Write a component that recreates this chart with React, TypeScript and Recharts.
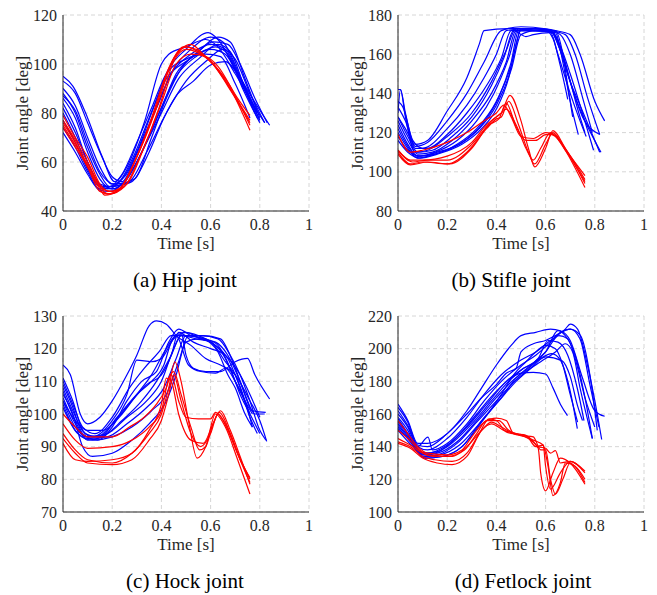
import React from "react";
import { LineChart, Line, XAxis, YAxis, CartesianGrid, Label } from "recharts";

type Pt = [number, number];

// (a) Hip joint
const hipBlue: Pt[][] = [
  [[0,95],[0.04,91],[0.1,78],[0.16,62],[0.21,52],[0.26,58],[0.33,76],[0.4,100],[0.43,104],[0.5,107],[0.58,110],[0.63,107],[0.7,96],[0.77,84],[0.82,76]],
  [[0,93],[0.05,88],[0.1,76],[0.15,64],[0.2,54],[0.24,52],[0.3,64],[0.36,80],[0.43,98],[0.5,106],[0.59,112.8],[0.63,110],[0.7,98],[0.77,86],[0.84,75]],
  [[0,90],[0.05,83],[0.1,70],[0.15,58],[0.2,51],[0.25,54],[0.32,68],[0.38,82],[0.45,98],[0.52,106],[0.6,111],[0.65,109],[0.72,95],[0.8,77]],
  [[0,88],[0.05,80],[0.1,66],[0.15,55],[0.19,50],[0.24,53],[0.3,64],[0.37,80],[0.44,96],[0.52,104],[0.6,108],[0.66,106],[0.72,94],[0.78,80]],
  [[0,86],[0.05,78],[0.1,64],[0.15,53],[0.2,49],[0.25,52],[0.32,64],[0.39,80],[0.46,95],[0.54,103],[0.62,107],[0.67,104],[0.73,90],[0.8,76]],
  [[0,84],[0.05,74],[0.1,60],[0.15,51],[0.19,50],[0.24,55],[0.3,68],[0.36,82],[0.42,96],[0.5,102],[0.58,104],[0.64,103],[0.7,92],[0.76,78]],
  [[0,82],[0.05,72],[0.1,60],[0.14,52],[0.18,49],[0.23,52],[0.29,63],[0.35,78],[0.42,94],[0.5,101],[0.6,106],[0.66,104],[0.72,93],[0.79,78]],
  [[0,80],[0.05,70],[0.1,58],[0.15,50],[0.2,49],[0.26,53],[0.33,66],[0.4,80],[0.47,94],[0.55,102],[0.63,108],[0.68,105],[0.74,90],[0.8,77]],
  [[0,77],[0.05,68],[0.1,57],[0.15,50],[0.2,50],[0.27,52],[0.34,64],[0.42,80],[0.5,93],[0.58,101],[0.65,106],[0.7,102],[0.76,88],[0.82,76]],
  [[0,74],[0.05,66],[0.1,56],[0.15,49],[0.2,50],[0.28,52],[0.35,64],[0.41,78],[0.46,87],[0.53,93],[0.6,99.6],[0.66,101],[0.72,94],[0.79,80]],
  [[0,72],[0.05,64],[0.1,55],[0.15,48.5],[0.19,48],[0.25,52],[0.33,66],[0.4,82],[0.46,96],[0.54,104],[0.61,109],[0.67,108],[0.72,100],[0.78,86],[0.83,76]],
  [[0,87],[0.05,81],[0.1,68],[0.15,56],[0.21,51],[0.29,53],[0.36,70],[0.42,86],[0.48,98],[0.56,106],[0.63,111],[0.68,109],[0.74,94],[0.8,78]],
];
const hipRed: Pt[][] = [
  [[0,79],[0.05,70],[0.1,62],[0.15,51],[0.19,48],[0.24,50],[0.3,62],[0.36,78],[0.42,96],[0.46,104],[0.5,107],[0.55,105],[0.6,101],[0.66,93],[0.71,85],[0.76,77]],
  [[0,77],[0.05,69],[0.1,60],[0.15,50],[0.18,47],[0.23,49],[0.29,60],[0.37,80],[0.43,98],[0.48,106],[0.52,108],[0.57,104],[0.62,99],[0.68,90],[0.76,73]],
  [[0,76],[0.05,68],[0.1,58],[0.15,49],[0.17,46.5],[0.22,48],[0.3,62],[0.38,82],[0.44,100],[0.49,107],[0.54,106],[0.6,101],[0.66,94],[0.71,86],[0.76,79]],
  [[0,74],[0.05,66],[0.1,58],[0.15,48],[0.19,47],[0.25,50],[0.32,64],[0.39,82],[0.45,101],[0.5,106],[0.56,104],[0.61,100],[0.67,91],[0.72,83],[0.76,76]],
  [[0,75],[0.05,67],[0.1,59],[0.16,49],[0.2,48],[0.26,51],[0.33,66],[0.4,84],[0.46,100],[0.52,104],[0.58,103],[0.63,99],[0.69,89],[0.76,75]],
];

// (b) Stifle joint
const stifleBlue: Pt[][] = [
  [[0,128],[0.03,122],[0.07,114],[0.12,116],[0.2,131],[0.28,148],[0.33,165],[0.35,172],[0.45,173],[0.55,173],[0.62,172],[0.66,162],[0.7,146],[0.74,134],[0.78,122],[0.82,110]],
  [[0,142],[0.01,142],[0.03,130],[0.07,113],[0.12,115],[0.2,126],[0.28,140],[0.35,156],[0.42,172],[0.5,174],[0.6,173],[0.66,170],[0.7,160],[0.75,138],[0.79,120]],
  [[0,136],[0.02,133],[0.06,116],[0.1,112],[0.2,122],[0.28,134],[0.35,148],[0.4,160],[0.44,172],[0.52,173],[0.62,172],[0.65,165],[0.7,146],[0.75,128],[0.82,119]],
  [[0,133],[0.03,126],[0.07,112],[0.12,112],[0.2,119],[0.28,130],[0.36,144],[0.42,158],[0.46,172],[0.55,172],[0.63,171],[0.67,160],[0.71,142],[0.76,126],[0.825,110]],
  [[0,130],[0.01,142],[0.03,128],[0.07,110],[0.12,111],[0.2,118],[0.3,130],[0.38,146],[0.44,162],[0.48,173],[0.56,172],[0.62,172],[0.66,164],[0.7,150],[0.74,134],[0.795,111]],
  [[0,128],[0.04,118],[0.08,110],[0.14,111],[0.22,118],[0.3,128],[0.38,144],[0.43,158],[0.47,172],[0.52,169],[0.55,170],[0.62,171],[0.65,160],[0.7,140],[0.74,126],[0.765,118]],
  [[0,126],[0.04,116],[0.08,109],[0.14,110],[0.22,116],[0.3,126],[0.38,140],[0.44,156],[0.48,172],[0.56,172],[0.63,171],[0.66,162],[0.7,146],[0.735,130],[0.76,120]],
  [[0,124],[0.04,114],[0.08,108],[0.15,110],[0.24,116],[0.32,126],[0.39,140],[0.45,158],[0.49,173],[0.57,172],[0.64,171],[0.67,156],[0.7,136],[0.733,119]],
  [[0,122],[0.04,113],[0.08,108],[0.15,109],[0.24,114],[0.32,122],[0.4,136],[0.46,154],[0.5,172],[0.6,172],[0.63,168],[0.66,154],[0.69,137]],
  [[0,120],[0.04,112],[0.08,107],[0.15,109],[0.25,114],[0.33,122],[0.4,134],[0.46,152],[0.5,170],[0.56,172],[0.64,172],[0.67,160],[0.69,144],[0.71,128]],
  [[0,118],[0.04,111],[0.09,108],[0.16,110],[0.26,115],[0.34,124],[0.41,138],[0.46,156],[0.49,172],[0.55,173],[0.62,172],[0.68,170],[0.72,160],[0.77,138],[0.82,119]],
  [[0,116],[0.04,110],[0.09,107],[0.16,109],[0.26,114],[0.34,122],[0.4,132],[0.45,148],[0.48,165],[0.5,173],[0.58,173],[0.64,172],[0.7,170],[0.74,160],[0.8,136],[0.84,126]],
];
const stifleRed: Pt[][] = [
  [[0,119],[0.05,110],[0.1,111],[0.2,115],[0.28,120],[0.35,126],[0.4,130],[0.43,134],[0.46,128],[0.5,118],[0.55,117],[0.6,120],[0.64,118],[0.7,108],[0.76,98]],
  [[0,111],[0.05,106],[0.1,106],[0.2,108],[0.3,115],[0.36,124],[0.4,128],[0.42,130],[0.455,139],[0.5,126],[0.53,112],[0.556,102.5],[0.6,112],[0.63,121],[0.68,112],[0.76,94]],
  [[0,110],[0.05,104],[0.1,105],[0.2,104],[0.28,110],[0.36,122],[0.4,127],[0.42,128],[0.45,136],[0.49,124],[0.53,110],[0.555,104],[0.6,114],[0.63,120],[0.68,111],[0.76,92]],
  [[0,111],[0.06,105],[0.12,106],[0.2,106],[0.3,114],[0.37,124],[0.41,127],[0.44,135],[0.48,123],[0.52,116],[0.56,116],[0.6,119],[0.63,119],[0.69,110],[0.76,96]],
  [[0,109],[0.05,103.5],[0.12,105],[0.21,104],[0.3,112],[0.38,126],[0.42,130],[0.44,132],[0.48,124],[0.52,112],[0.55,106],[0.58,112],[0.62,120],[0.68,111],[0.76,95]],
];

// (c) Hock joint
const hockBlue: Pt[][] = [
  [[0,115],[0.03,112],[0.07,100],[0.1,97],[0.15,99],[0.2,104],[0.26,112],[0.3,118],[0.35,127],[0.38,128.5],[0.42,127.5],[0.46,124],[0.52,121],[0.58,117],[0.64,115],[0.7,112],[0.76,104],[0.8,98],[0.828,91.6]],
  [[0,111],[0.04,104],[0.08,95],[0.12,93],[0.2,98],[0.26,106],[0.3,116.5],[0.36,116],[0.4,117],[0.45,123],[0.5,125],[0.56,123],[0.62,122],[0.67,118],[0.72,110],[0.77,101],[0.824,100.5]],
  [[0,109],[0.04,102],[0.08,94],[0.14,92],[0.2,96],[0.26,104],[0.32,110],[0.38,113],[0.43,122],[0.47,126],[0.52,124],[0.58,123],[0.63,121],[0.68,114],[0.72,106],[0.76,100],[0.8,94]],
  [[0,107],[0.05,98],[0.09,93],[0.15,93],[0.22,99],[0.3,106],[0.36,110],[0.41,115],[0.44,122],[0.48,125],[0.5,118],[0.53,114],[0.58,113],[0.64,113],[0.7,116],[0.75,117],[0.78,112],[0.84,104.6]],
  [[0,105],[0.05,97],[0.1,92],[0.16,93],[0.24,98],[0.32,104],[0.38,110],[0.44,118],[0.48,124],[0.54,123],[0.6,122],[0.66,116],[0.7,112],[0.74,104],[0.77,96]],
  [[0,104],[0.05,96],[0.1,93],[0.18,94],[0.26,99],[0.34,104],[0.4,110],[0.45,120],[0.49,125],[0.55,124],[0.62,121],[0.67,117],[0.72,108],[0.76,99],[0.79,94]],
  [[0,103],[0.05,95],[0.1,92.5],[0.18,93],[0.26,97],[0.34,102],[0.41,108],[0.46,117],[0.5,124],[0.56,124],[0.63,123],[0.68,118],[0.72,112],[0.76,104],[0.8,95],[0.825,92]],
  [[0,102],[0.06,94],[0.12,92],[0.2,93],[0.28,96],[0.36,101],[0.42,106],[0.47,116],[0.51,124],[0.57,124],[0.64,123],[0.69,116],[0.74,106],[0.78,100],[0.82,100]],
  [[0,106],[0.04,100],[0.08,90],[0.12,87],[0.2,88],[0.28,92],[0.35,97],[0.42,104],[0.46,112],[0.5,122],[0.55,123],[0.62,121],[0.66,117],[0.7,110],[0.74,104],[0.77,100]],
  [[0,108],[0.04,101],[0.09,94],[0.14,93],[0.2,97],[0.28,104],[0.34,109],[0.4,112],[0.44,118],[0.47,125],[0.53,122],[0.6,120],[0.66,118],[0.72,112],[0.76,106],[0.8,99]],
  [[0,110],[0.04,103],[0.08,96],[0.13,94],[0.2,99],[0.27,108],[0.33,114],[0.39,119],[0.44,124],[0.5,124],[0.57,123],[0.63,119],[0.67,112],[0.7,108],[0.74,100],[0.77,96]],
  [[0,104],[0.05,98],[0.1,95],[0.16,95],[0.24,100],[0.3,106],[0.36,112],[0.42,120],[0.46,124],[0.51,115],[0.56,113],[0.62,112.5],[0.66,114],[0.7,110],[0.74,104],[0.76,100]],
];
const hockRed: Pt[][] = [
  [[0,100],[0.05,96],[0.1,93],[0.2,93],[0.27,96],[0.33,99],[0.38,103],[0.42,108],[0.44,112],[0.47,104],[0.5,99],[0.55,98.5],[0.6,98.5],[0.62,100.5],[0.66,97],[0.71,88],[0.76,80]],
  [[0,97],[0.05,92],[0.1,89.5],[0.2,90],[0.28,92],[0.35,96],[0.4,101],[0.43,111],[0.45,113],[0.48,106],[0.52,96],[0.555,89],[0.58,90],[0.61,97],[0.635,100.5],[0.68,94],[0.72,86],[0.76,79]],
  [[0,94],[0.05,89],[0.1,86],[0.2,85],[0.28,88],[0.35,94],[0.4,100],[0.43,108],[0.455,116],[0.48,110],[0.51,98],[0.545,86.5],[0.58,90],[0.62,100],[0.66,96],[0.71,86],[0.76,75.5]],
  [[0,92.5],[0.05,88],[0.1,85],[0.2,84.5],[0.28,86],[0.35,92],[0.4,98],[0.43,106],[0.45,112],[0.48,104],[0.52,94],[0.56,90],[0.6,94],[0.63,100],[0.67,95],[0.72,86],[0.76,80.5]],
  [[0,91],[0.05,86],[0.1,85.5],[0.2,86],[0.28,88],[0.35,95],[0.4,103],[0.42,111],[0.44,110],[0.47,100],[0.52,92],[0.57,91],[0.61,97],[0.64,101],[0.68,95],[0.72,87],[0.76,78.5]],
];

// (d) Fetlock joint
const fetlockBlue: Pt[][] = [
  [[0,166],[0.04,156],[0.08,142],[0.12,142],[0.2,148],[0.28,162],[0.34,176],[0.4,190],[0.46,202],[0.5,208],[0.56,210],[0.62,212],[0.66,211],[0.7,205],[0.75,182],[0.8,162],[0.84,158.6]],
  [[0,164],[0.04,155],[0.08,140],[0.12,138],[0.2,145],[0.28,158],[0.35,172],[0.42,184],[0.5,193],[0.56,198],[0.62,205],[0.68,212],[0.7,215],[0.73,212],[0.77,190],[0.81,160],[0.828,144.4]],
  [[0,160],[0.04,152],[0.08,140],[0.122,145.8],[0.14,138],[0.2,142],[0.28,154],[0.35,168],[0.42,180],[0.5,190],[0.56,196],[0.62,204],[0.66,210],[0.7,212],[0.74,206],[0.78,178],[0.817,152]],
  [[0,158],[0.04,150],[0.08,138],[0.12,136],[0.2,141],[0.28,152],[0.36,166],[0.44,180],[0.5,187],[0.56,192],[0.6,198],[0.65,211],[0.68,208],[0.72,196],[0.76,170],[0.79,145]],
  [[0,157],[0.04,148],[0.08,137],[0.12,135],[0.2,140],[0.3,154],[0.38,168],[0.45,180],[0.51,188],[0.57,194],[0.61,205],[0.65,204],[0.69,196],[0.73,175],[0.756,156]],
  [[0,155],[0.05,146],[0.1,136],[0.16,137],[0.24,146],[0.32,160],[0.4,174],[0.46,182],[0.5,185],[0.55,185.5],[0.6,184.5],[0.63,176],[0.66,166],[0.689,159]],
  [[0,154],[0.05,145],[0.1,135],[0.16,136],[0.24,143],[0.32,156],[0.4,170],[0.47,181],[0.53,188],[0.58,194],[0.625,197],[0.66,193],[0.7,174],[0.729,151]],
  [[0,153],[0.05,144],[0.1,134],[0.16,135],[0.24,142],[0.32,155],[0.4,168],[0.46,178],[0.52,186],[0.58,192],[0.64,198],[0.68,203],[0.71,198],[0.74,176],[0.79,145]],
  [[0,152],[0.05,143],[0.1,134],[0.17,135],[0.25,141],[0.33,154],[0.41,168],[0.48,180],[0.54,188],[0.6,195],[0.666,192.7],[0.7,183],[0.73,165],[0.75,156]],
  [[0,151],[0.06,142],[0.11,133],[0.18,134],[0.26,140],[0.34,156],[0.42,170],[0.48,182],[0.54,190],[0.6,198],[0.654,208],[0.69,206],[0.72,194],[0.76,170],[0.8,152]],
  [[0,150],[0.06,140],[0.11,133],[0.18,134],[0.26,140],[0.34,155],[0.42,172],[0.47,184],[0.52,192],[0.56,198],[0.6,202],[0.64,200],[0.67,190],[0.7,172],[0.73,155]],
  [[0,162],[0.04,153],[0.08,141],[0.12,140],[0.2,148],[0.28,160],[0.34,170],[0.4,178],[0.44,185],[0.48,188],[0.5,198],[0.55,203],[0.6,205],[0.64,208],[0.7,212],[0.742,208],[0.78,184],[0.81,150]],
];
const fetlockRed: Pt[][] = [
  [[0,156],[0.03,150],[0.08,140],[0.12,136],[0.2,135],[0.26,138],[0.3,146],[0.35,155],[0.4,157.5],[0.44,156],[0.47,148],[0.52,147],[0.56,140],[0.59,141],[0.6,128],[0.62,114],[0.66,124],[0.7,131],[0.76,125]],
  [[0,150],[0.04,145],[0.08,139],[0.12,135],[0.2,134],[0.27,138],[0.32,148],[0.36,156],[0.41,156],[0.45,150],[0.5,147],[0.55,146],[0.58,138],[0.6,138],[0.62,120],[0.64,111],[0.67,120],[0.7,130],[0.73,126],[0.76,118]],
  [[0,145],[0.05,141],[0.1,136],[0.15,134],[0.22,134],[0.28,140],[0.34,150],[0.38,155],[0.42,152],[0.47,148],[0.53,145],[0.57,139],[0.58,124],[0.6,113],[0.63,124],[0.66,133],[0.7,130],[0.76,117]],
  [[0,143],[0.05,140],[0.1,134],[0.15,132],[0.22,131],[0.28,136],[0.33,148],[0.37,157],[0.4,156],[0.44,149],[0.5,147],[0.55,144],[0.59,141],[0.61,128],[0.63,110],[0.66,118],[0.68,130],[0.72,128],[0.76,120]],
  [[0,142],[0.05,139],[0.1,133],[0.16,130],[0.22,129],[0.28,134],[0.34,150],[0.38,154],[0.43,150],[0.48,148],[0.53,146],[0.57,140],[0.6,139],[0.62,136],[0.64,137.6],[0.66,130],[0.7,131],[0.76,124]],
];

const timeTicks = [0, 0.2, 0.4, 0.6, 0.8, 1];
const hipTicks = [40, 60, 80, 100, 120];
const stifleTicks = [80, 100, 120, 140, 160, 180];
const hockTicks = [70, 80, 90, 100, 110, 120, 130];
const fetlockTicks = [100, 120, 140, 160, 180, 200, 220];

const FONT = "Liberation Serif, Tinos, Times New Roman, DejaVu Serif, serif";
const tickStyle = { fill: "#262626", fontSize: 16, fontFamily: FONT };
const labelStyle = { fill: "#262626", fontSize: 17, fontFamily: FONT };

type PanelProps = {
  blue: Pt[][];
  red: Pt[][];
  yTicks: number[];
  left: number;
  top: number;
  caption: string;
  captionX: number;
};

const Panel = ({ blue, red, yTicks, left, top, caption, captionX }: PanelProps) => {
  const toRows = (c: Pt[]) => c.map(([t, v]) => ({ t, v }));
  return (
    <>
      <div style={{ position: "absolute", left, top }}>
        <LineChart width={330} height={260} margin={{ top: 15, right: 21, left: 0, bottom: 0 }}>
          <CartesianGrid stroke="#d6d6d6" strokeDasharray="4 3" />
          <XAxis
            type="number"
            dataKey="t"
            domain={[0, 1]}
            ticks={timeTicks}
            interval={0}
            height={49}
            tickLine={false}
            tickSize={6}
            axisLine={{ stroke: "#262626" }}
            tick={tickStyle}
            allowDataOverflow
          >
            <Label value="Time [s]" position="insideBottom" offset={11} style={labelStyle} />
          </XAxis>
          <YAxis
            type="number"
            domain={[yTicks[0], yTicks[yTicks.length - 1]]}
            ticks={yTicks}
            interval={0}
            width={63}
            tickLine={false}
            tickSize={4}
            axisLine={{ stroke: "#262626" }}
            tick={tickStyle}
            allowDataOverflow
          >
            <Label
              value="Joint angle [deg]"
              angle={-90}
              position="insideLeft"
              offset={22}
              style={{ ...labelStyle, textAnchor: "middle" }}
            />
          </YAxis>
          {blue.map((c, i) => (
            <Line
              key={"b" + i}
              data={toRows(c)}
              dataKey="v"
              type="monotone"
              stroke="#0000ff"
              strokeWidth={1.2}
              dot={false}
              activeDot={false}
              isAnimationActive={false}
            />
          ))}
          {red.map((c, i) => (
            <Line
              key={"r" + i}
              data={toRows(c)}
              dataKey="v"
              type="monotone"
              stroke="#ff0000"
              strokeWidth={1.2}
              dot={false}
              activeDot={false}
              isAnimationActive={false}
            />
          ))}
        </LineChart>
      </div>
      <div
        style={{
          position: "absolute",
          left: captionX - 120,
          width: 240,
          top: top + 266,
          textAlign: "center",
          fontFamily: FONT,
          fontSize: 21,
          color: "#000",
          lineHeight: "28px",
        }}
      >
        {caption}
      </div>
    </>
  );
};

export default function App() {
  return (
    <div style={{ position: "absolute", left: 0, top: 0, width: 657, height: 595, background: "#fff" }}>
      <Panel blue={hipBlue} red={hipRed} yTicks={hipTicks} left={0} top={0} caption="(a) Hip joint" captionX={185} />
      <Panel blue={stifleBlue} red={stifleRed} yTicks={stifleTicks} left={335} top={0} caption="(b) Stifle joint" captionX={511} />
      <Panel blue={hockBlue} red={hockRed} yTicks={hockTicks} left={0} top={301} caption="(c) Hock joint" captionX={185} />
      <Panel blue={fetlockBlue} red={fetlockRed} yTicks={fetlockTicks} left={335} top={301} caption="(d) Fetlock joint" captionX={523} />
    </div>
  );
}
